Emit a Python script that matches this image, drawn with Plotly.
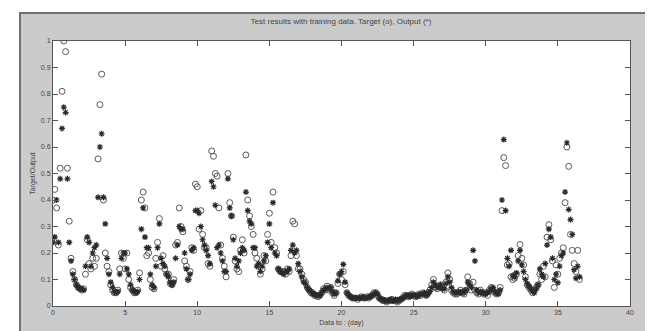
import numpy as np
import plotly.graph_objects as go

# Sampling: 8 samples per day (every 3 hours), starting at day 0
samples_per_day = 8

target = [
    # day 0
    0.40, 0.44, 0.37, 0.23, 0.52, 0.81, 1.00, 0.96,
    # day 1
    0.52, 0.32, 0.18, 0.13, 0.10, 0.08, 0.07, 0.065,
    # day 2
    0.06, 0.065, 0.12, 0.25, 0.16, 0.14, 0.18, 0.15,
    # day 3
    0.18, 0.555, 0.76, 0.875, 0.40, 0.20, 0.15, 0.13,
    # day 4
    0.08, 0.06, 0.05, 0.05, 0.06, 0.14, 0.20, 0.18,
    # day 5
    0.14, 0.20, 0.10, 0.07, 0.06, 0.05, 0.05, 0.06,
    # day 6
    0.125, 0.40, 0.43, 0.37, 0.19, 0.20, 0.10, 0.07,
    # day 7
    0.065, 0.18, 0.24, 0.33, 0.15, 0.19, 0.14, 0.12,
    # day 8
    0.12, 0.085, 0.08, 0.10, 0.23, 0.24, 0.37, 0.30,
    # day 9
    0.28, 0.17, 0.15, 0.10, 0.13, 0.22, 0.21, 0.46,
    # day 10
    0.45, 0.29, 0.36, 0.27, 0.22, 0.22, 0.16, 0.15,
    # day 11
    0.585, 0.565, 0.50, 0.49, 0.37, 0.23, 0.18, 0.15,
    # day 12
    0.11, 0.50, 0.39, 0.34, 0.26, 0.17, 0.14, 0.13,
    # day 13
    0.21, 0.25, 0.20, 0.57, 0.40, 0.34, 0.30, 0.27,
    # day 14
    0.20, 0.18, 0.15, 0.12, 0.14, 0.19, 0.17, 0.27,
    # day 15
    0.35, 0.24, 0.43, 0.22, 0.20, 0.14, 0.13, 0.13,
    # day 16
    0.13, 0.12, 0.14, 0.13, 0.19, 0.32, 0.31, 0.19,
    # day 17
    0.14, 0.14, 0.12, 0.10, 0.09, 0.07, 0.06, 0.05,
    # day 18
    0.05, 0.04, 0.04, 0.035, 0.04, 0.05, 0.065, 0.06,
    # day 19
    0.075, 0.06, 0.07, 0.05, 0.04, 0.05, 0.085, 0.12,
    # day 20
    0.10, 0.13, 0.08, 0.05, 0.04, 0.035, 0.03, 0.03,
    # day 21
    0.03, 0.025, 0.03, 0.035, 0.03, 0.03, 0.035, 0.03,
    # day 22
    0.035, 0.04, 0.05, 0.05, 0.04, 0.03, 0.025, 0.02,
    # day 23
    0.02, 0.015, 0.02, 0.02, 0.025, 0.02, 0.02, 0.015,
    # day 24
    0.02, 0.025, 0.03, 0.04, 0.04, 0.035, 0.04, 0.045,
    # day 25
    0.04, 0.035, 0.04, 0.045, 0.04, 0.05, 0.045, 0.04,
    # day 26
    0.05, 0.06, 0.08, 0.10, 0.07, 0.065, 0.075, 0.08,
    # day 27
    0.07, 0.06, 0.09, 0.125, 0.10, 0.06, 0.05, 0.045,
    # day 28
    0.045, 0.05, 0.06, 0.05, 0.045, 0.06, 0.11, 0.085,
    # day 29
    0.06, 0.09, 0.06, 0.05, 0.045, 0.06, 0.05, 0.045,
    # day 30
    0.05, 0.04, 0.06, 0.07, 0.06, 0.05, 0.045, 0.05,
    # day 31
    0.07, 0.36, 0.56, 0.53, 0.155, 0.16, 0.11, 0.10,
    # day 32
    0.105, 0.12, 0.19, 0.232, 0.18, 0.155, 0.11, 0.08,
    # day 33
    0.07, 0.06, 0.05, 0.06, 0.07, 0.08, 0.12, 0.10,
    # day 34
    0.15, 0.11, 0.26, 0.307, 0.25, 0.17, 0.07, 0.155,
    # day 35
    0.12, 0.18, 0.20, 0.22, 0.39, 0.60, 0.527, 0.27,
    # day 36
    0.21, 0.16, 0.13, 0.21, 0.10,
]

output = [
    # day 0
    0.24, 0.26, 0.40, 0.24, 0.48, 0.67, 0.75, 0.73,
    # day 1
    0.48, 0.24, 0.17, 0.12, 0.10, 0.08, 0.07, 0.065,
    # day 2
    0.065, 0.06, 0.15, 0.26, 0.24, 0.15, 0.20, 0.22,
    # day 3
    0.23, 0.41, 0.60, 0.65, 0.41, 0.31, 0.18, 0.12,
    # day 4
    0.09, 0.07, 0.055, 0.05, 0.055, 0.12, 0.18, 0.20,
    # day 5
    0.20, 0.14, 0.12, 0.08, 0.06, 0.055, 0.05, 0.055,
    # day 6
    0.10, 0.29, 0.37, 0.26, 0.22, 0.22, 0.12, 0.08,
    # day 7
    0.07, 0.15, 0.22, 0.31, 0.18, 0.16, 0.15, 0.12,
    # day 8
    0.11, 0.09, 0.08, 0.09, 0.18, 0.23, 0.30, 0.29,
    # day 9
    0.29, 0.20, 0.14, 0.10, 0.12, 0.21, 0.22, 0.36,
    # day 10
    0.36, 0.35, 0.30, 0.25, 0.23, 0.21, 0.19, 0.16,
    # day 11
    0.47, 0.45, 0.38, 0.22, 0.23, 0.20, 0.17, 0.13,
    # day 12
    0.13, 0.48, 0.37, 0.34, 0.25, 0.18, 0.15, 0.17,
    # day 13
    0.20, 0.22, 0.21, 0.43, 0.36, 0.32, 0.31, 0.22,
    # day 14
    0.22, 0.15, 0.16, 0.13, 0.15, 0.17, 0.19, 0.24,
    # day 15
    0.31, 0.22, 0.39, 0.20, 0.19, 0.14, 0.13, 0.125,
    # day 16
    0.12, 0.13, 0.13, 0.14, 0.21, 0.23, 0.20, 0.21,
    # day 17
    0.16, 0.13, 0.11, 0.09, 0.085, 0.07, 0.06, 0.055,
    # day 18
    0.045, 0.045, 0.04, 0.04, 0.04, 0.05, 0.06, 0.065,
    # day 19
    0.07, 0.065, 0.07, 0.055, 0.045, 0.05, 0.095, 0.12,
    # day 20
    0.13, 0.157, 0.09, 0.05, 0.04, 0.035, 0.03, 0.03,
    # day 21
    0.03, 0.03, 0.03, 0.03, 0.035, 0.03, 0.03, 0.035,
    # day 22
    0.035, 0.04, 0.045, 0.05, 0.045, 0.03, 0.025, 0.025,
    # day 23
    0.02, 0.02, 0.02, 0.025, 0.02, 0.02, 0.025, 0.02,
    # day 24
    0.025, 0.025, 0.03, 0.035, 0.04, 0.04, 0.035, 0.04,
    # day 25
    0.04, 0.04, 0.035, 0.04, 0.045, 0.045, 0.05, 0.04,
    # day 26
    0.045, 0.055, 0.07, 0.09, 0.08, 0.07, 0.07, 0.08,
    # day 27
    0.065, 0.065, 0.085, 0.11, 0.09, 0.07, 0.055, 0.05,
    # day 28
    0.05, 0.055, 0.05, 0.055, 0.05, 0.06, 0.09, 0.08,
    # day 29
    0.07, 0.21, 0.17, 0.06, 0.05, 0.055, 0.05, 0.05,
    # day 30
    0.045, 0.05, 0.055, 0.065, 0.07, 0.055, 0.05, 0.045,
    # day 31
    0.06, 0.40, 0.628, 0.36, 0.18, 0.15, 0.21, 0.115,
    # day 32
    0.11, 0.125, 0.17, 0.21, 0.155, 0.13, 0.10, 0.085,
    # day 33
    0.075, 0.065, 0.055, 0.05, 0.065, 0.08, 0.14, 0.12,
    # day 34
    0.11, 0.16, 0.23, 0.29, 0.26, 0.18, 0.10, 0.12,
    # day 35
    0.088, 0.15, 0.19, 0.20, 0.43, 0.616, 0.364, 0.326,
    # day 36
    0.27, 0.137, 0.105, 0.15, 0.11,
]

x_ticks = [0, 5, 10, 15, 20, 25, 30, 35, 40]
y_ticks = [0, 0.1, 0.2, 0.3, 0.4, 0.5, 0.6, 0.7, 0.8, 0.9, 1]

title_text = "Test results with training data. Target (o), Output (*)"
x_label = "Data to : (day)"
y_label = "Target/Output"

n = min(len(target), len(output))
days = np.arange(n) / samples_per_day

W, H = 653, 331
L, R, T, B = 45, 31, 33, 33
pw, ph = W - L - R, H - T - B

def px2paper_x(px):
    return (px - L) / pw

def py2paper_y(py):
    return (H - B - py) / ph

fig = go.Figure()
fig.add_trace(go.Scatter(
    x=days, y=target[:n], mode="markers", name="Target",
    marker=dict(symbol="circle-open", size=6, color="#5a5a5a", line=dict(width=1)),
))
fig.add_trace(go.Scatter(
    x=days, y=output[:n], mode="markers", name="Output",
    marker=dict(symbol="asterisk-open", size=5, color="#2a2a2a", line=dict(width=1.2)),
))

font_fam = "Liberation Sans, Arial, sans-serif"

fig.update_layout(
    width=W, height=H,
    margin=dict(l=L, r=R, t=T, b=B),
    paper_bgcolor="white",
    plot_bgcolor="white",
    showlegend=False,
    font=dict(family=font_fam, size=7, color="#444"),
    title=dict(text=title_text, x=px2paper_x(333) * pw / W + L / W, xanchor="center",
               y=(H - 13) / H, yanchor="middle", font=dict(size=8, color="#444")),
    shapes=[
        dict(type="rect", xref="paper", yref="paper", layer="below",
             x0=px2paper_x(12), x1=px2paper_x(647), y0=py2paper_y(326), y1=py2paper_y(5),
             fillcolor="#cbcbcb", line=dict(color="#6f6f6f", width=2)),
        dict(type="rect", xref="paper", yref="paper", layer="below",
             x0=0, x1=1, y0=0, y1=1, fillcolor="white", line=dict(width=0)),
    ],
)

fig.update_xaxes(
    range=[0, 40], tickvals=x_ticks, ticktext=[str(v) for v in x_ticks],
    showgrid=False, zeroline=False, showline=True, linecolor="#555", linewidth=1,
    mirror="ticks", ticks="inside", ticklen=5, tickcolor="#555",
    tickfont=dict(size=7, color="#444"),
    title=dict(text=x_label, font=dict(size=7, color="#444"), standoff=4),
)
fig.update_yaxes(
    range=[0, 1], tickvals=y_ticks, ticktext=["0", "0.1", "0.2", "0.3", "0.4", "0.5", "0.6", "0.7", "0.8", "0.9", "1"],
    showgrid=False, zeroline=False, showline=True, linecolor="#555", linewidth=1,
    mirror="ticks", ticks="inside", ticklen=5, tickcolor="#555",
    tickfont=dict(size=7, color="#444"),
    title=dict(text=y_label, font=dict(size=7, color="#444"), standoff=4),
)

fig.write_html("out.html")
